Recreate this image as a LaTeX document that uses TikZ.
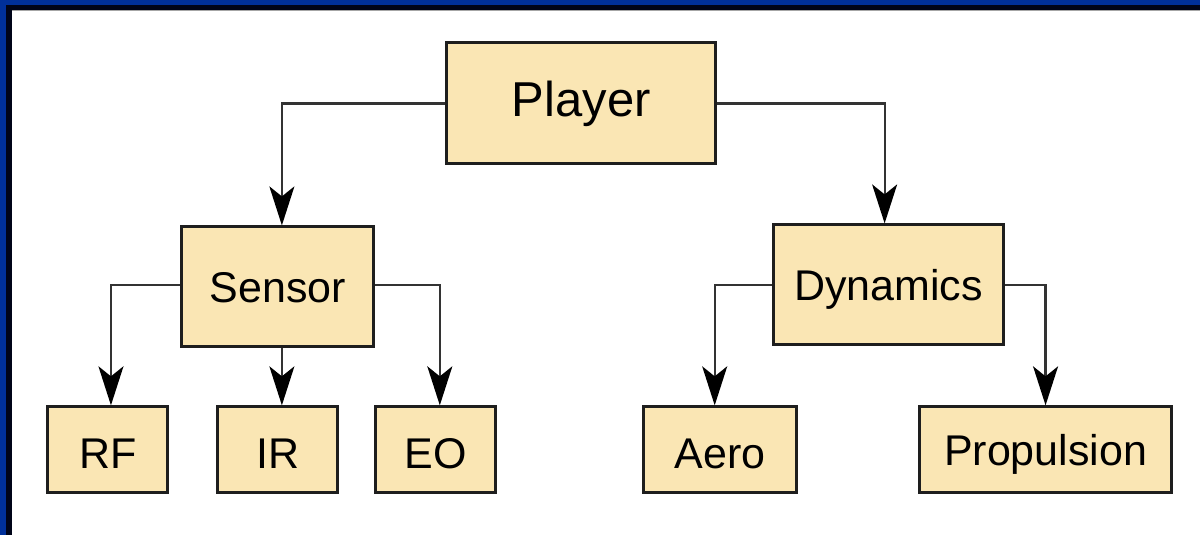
\documentclass[tikz,border=0pt]{standalone}
\usepackage{fontspec}
\setmainfont{Liberation Sans}
\usetikzlibrary{arrows.meta}
\definecolor{frameblue}{HTML}{00309A}
\definecolor{framenavy}{HTML}{000418}
\definecolor{boxfill}{HTML}{FAE6B4}
\definecolor{boxline}{HTML}{1E1E1E}
\definecolor{wire}{HTML}{333333}
\tikzset{
  box/.style={draw=boxline, fill=boxfill, line width=1.5pt, inner sep=0pt,
    text height=15.4pt, text depth=0pt, font=\fontsize{21.5pt}{24pt}\selectfont},
  leaf/.style={box, minimum height=43pt, text height=19pt},
  link/.style={draw=wire, line width=1.1pt,
    -{Stealth[length=19.5pt, width=12.5pt, inset=5pt, color=black]}}
}
\begin{document}
\begin{tikzpicture}[x=0.5pt, y=-0.5pt]
  % frame along the top and left edges
  \fill[frameblue] (0,0) rectangle (1200,535);
  \fill[framenavy] (6,5) rectangle (1200,535);
  \fill[white] (12,11) rectangle (1200,535);
  \draw[gray!70, line width=0.5pt] (12,11) -- (1200,11);
  \useasboundingbox (0,0) rectangle (1200,535);

  % boxes
  \node[box, minimum width=134.5pt, minimum height=60.5pt, text height=13.5pt,
        font=\fontsize{24.5pt}{27pt}\selectfont] (player) at (581.5,103.5) {Player};
  \node[box, minimum width=96pt, minimum height=60pt] (sensor) at (278,287) {Sensor};
  \node[box, minimum width=115pt, minimum height=60pt] (dynamics) at (889,285) {Dynamics};
  \node[leaf, minimum width=60pt] (rf) at (108,450) {RF};
  \node[leaf, minimum width=60pt] (ir) at (278,450) {IR};
  \node[leaf, minimum width=60pt] (eo) at (436,450) {EO};
  \node[leaf, minimum width=76.5pt] (aero) at (720.5,450) {Aero};
  \node[leaf, minimum width=126pt, text height=16pt] (prop) at (1046,450) {Propulsion};

  % connectors
  \draw[link] (player.west) -| ([xshift=2pt]sensor.north);
  \draw[link] (player.east) -| ([xshift=-2pt]dynamics.north);
  \draw[link] ([yshift=1pt]sensor.west) -| ([xshift=1.5pt]rf.north);
  \draw[link] ([xshift=2pt]sensor.south) -- ([xshift=2pt]ir.north);
  \draw[link] ([yshift=1pt]sensor.east) -| ([xshift=2pt]eo.north);
  \draw[link] (dynamics.west) -| ([xshift=-2.75pt]aero.north);
  \draw[link] (dynamics.east) -| (prop.north);
\end{tikzpicture}
\end{document}
